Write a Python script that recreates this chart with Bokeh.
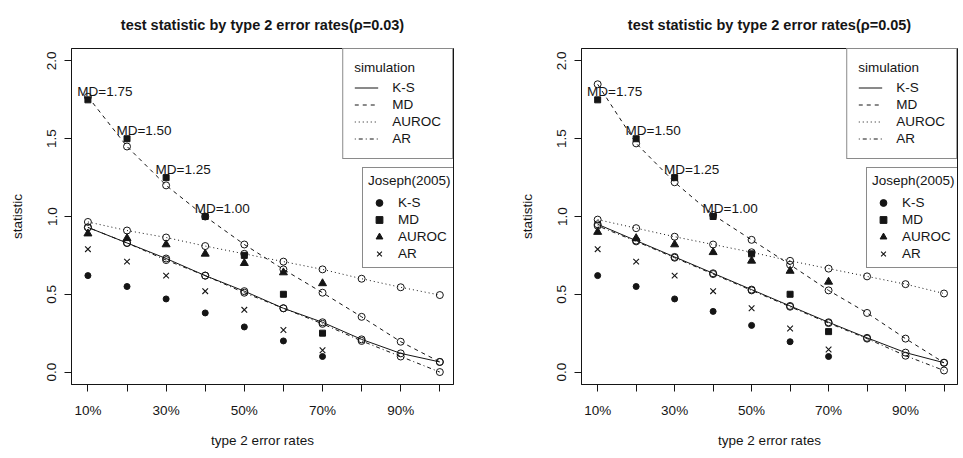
from bokeh.plotting import figure
from bokeh.layouts import row
from bokeh.models import Range1d, FixedTicker, Legend, LegendItem, PrintfTickFormatter
from bokeh.core.properties import value
from bokeh.embed import file_html
from bokeh.resources import INLINE

# ---------------- data ----------------
err_rates = [10, 20, 30, 40, 50, 60, 70, 80, 90, 100]
joseph_rates = [10, 20, 30, 40, 50, 60, 70]
x_tick_labels = ["10%", "", "30%", "", "50%", "", "70%", "", "90%", ""]
y_ticks = [0.0, 0.5, 1.0, 1.5, 2.0]

# rho = 0.03 : simulation (open circles with lines)
sim03_ks = [0.93, 0.83, 0.73, 0.62, 0.52, 0.41, 0.32, 0.21, 0.12, 0.065]
sim03_md = [1.77, 1.45, 1.20, 1.00, 0.82, 0.66, 0.51, 0.355, 0.195, 0.065]
sim03_auroc = [0.965, 0.91, 0.865, 0.81, 0.76, 0.71, 0.66, 0.60, 0.545, 0.495]
sim03_ar = [0.93, 0.83, 0.72, 0.62, 0.51, 0.41, 0.31, 0.20, 0.10, 0.0]
# rho = 0.03 : Joseph(2005)
jos03_ks = [0.62, 0.55, 0.47, 0.38, 0.29, 0.20, 0.10]
jos03_md = [1.75, 1.50, 1.25, 1.00, 0.75, 0.50, 0.25]
jos03_auroc = [0.89, 0.86, 0.82, 0.76, 0.70, 0.64, 0.57]
jos03_ar = [0.79, 0.71, 0.62, 0.52, 0.40, 0.27, 0.14]

# rho = 0.05 : simulation
sim05_ks = [0.95, 0.845, 0.74, 0.635, 0.53, 0.425, 0.32, 0.22, 0.125, 0.06]
sim05_md = [1.85, 1.47, 1.22, 1.01, 0.85, 0.69, 0.525, 0.38, 0.215, 0.06]
sim05_auroc = [0.98, 0.925, 0.87, 0.82, 0.77, 0.715, 0.665, 0.615, 0.565, 0.505]
sim05_ar = [0.94, 0.84, 0.735, 0.63, 0.525, 0.42, 0.315, 0.215, 0.105, 0.01]
# rho = 0.05 : Joseph(2005)
jos05_ks = [0.62, 0.55, 0.47, 0.39, 0.30, 0.195, 0.10]
jos05_md = [1.75, 1.50, 1.25, 1.00, 0.76, 0.50, 0.26]
jos05_auroc = [0.90, 0.86, 0.82, 0.77, 0.715, 0.65, 0.58]
jos05_ar = [0.79, 0.71, 0.62, 0.52, 0.41, 0.28, 0.145]

series_names = ["K-S", "MD", "AUROC", "AR"]
n_md_labels = 4

INK = "#151515"
FONT = "Liberation Sans"
FS = "13.5px"


def make_panel(title, sim, jos, width, border_left, border_right, title_offset, leg2_x):
    p = figure(width=width, height=450,
               x_range=Range1d(5.8, 103.5), y_range=Range1d(-0.08, 2.08),
               output_backend="svg", toolbar_location=None,
               min_border_left=border_left, min_border_right=border_right,
               min_border_top=48, min_border_bottom=62,
               background_fill_color="white", border_fill_color="white")

    p.title.text = title
    p.title.align = "center"
    p.title.vertical_align = "top"
    p.title.offset = title_offset
    p.title.standoff = 28
    p.title.text_font = FONT
    p.title.text_font_size = "14.5px"
    p.title.text_font_style = "bold"
    p.title.text_color = INK

    p.outline_line_color = INK
    p.outline_line_width = 1
    p.xgrid.visible = False
    p.ygrid.visible = False

    for ax in (p.xaxis, p.yaxis):
        ax.axis_line_color = INK
        ax.major_tick_line_color = INK
        ax.major_tick_out = 7
        ax.major_tick_in = 0
        ax.minor_tick_line_color = None
        ax.major_label_text_font = FONT
        ax.major_label_text_font_size = FS
        ax.major_label_text_color = INK
        ax.axis_label_text_font = FONT
        ax.axis_label_text_font_size = FS
        ax.axis_label_text_font_style = "normal"
        ax.axis_label_text_color = INK

    p.xaxis.ticker = FixedTicker(ticks=err_rates)
    p.xaxis.major_label_overrides = {r: lbl for r, lbl in zip(err_rates, x_tick_labels)}
    p.xaxis.major_label_standoff = 11
    p.xaxis.axis_label = "type 2 error rates"
    p.xaxis.axis_label_standoff = 12

    p.yaxis.ticker = FixedTicker(ticks=y_ticks)
    p.yaxis.formatter = PrintfTickFormatter(format="%.1f")
    p.yaxis.major_label_orientation = "vertical"
    p.yaxis.major_label_standoff = 8
    p.yaxis.axis_label = "statistic"
    p.yaxis.axis_label_standoff = 20

    ks, md, au, ar = sim
    dashes = ["solid", "4 4", "1 3", "1 3 4 3"]
    sim_r = []
    for vals, dash in zip((ks, md, au, ar), dashes):
        r = p.line(err_rates, vals, line_color=INK, line_width=1, line_dash=dash)
        sim_r.append(r)
    for vals in (ks, md, au, ar):
        p.scatter(err_rates, vals, marker="circle", size=7, line_color=INK,
                  line_width=1, fill_alpha=0)

    jks, jmd, jau, jar = jos
    j_r = [
        p.scatter(joseph_rates, jks, marker="circle", size=6, line_color=INK, fill_color=INK),
        p.scatter(joseph_rates, jmd, marker="square", size=6, line_color=INK, fill_color=INK),
        p.scatter(joseph_rates, jau, marker="triangle", size=8, line_color=INK, fill_color=INK),
        p.scatter(joseph_rates, jar, marker="x", size=8, line_color=INK, line_width=1.1),
    ]

    p.text(x=joseph_rates[:n_md_labels], y=jmd[:n_md_labels],
           text=["MD=%.2f" % v for v in jmd[:n_md_labels]],
           x_offset=17, y_offset=-8, text_align="center", text_baseline="middle",
           text_font=value(FONT), text_font_size=FS, text_color=INK)

    common = dict(margin=0, spacing=0, glyph_height=17, label_height=17,
                  border_line_color=INK, border_line_width=1,
                  background_fill_color="white", background_fill_alpha=1,
                  label_text_font=FONT, label_text_font_size=FS, label_text_color=INK,
                  title_text_font=FONT, title_text_font_size=FS,
                  title_text_font_style="normal", title_text_color=INK)
    leg1 = Legend(items=[LegendItem(label=n, renderers=[r]) for n, r in zip(series_names, sim_r)],
                  title="simulation", location="top_right", padding=11,
                  glyph_width=24, label_width=47, label_standoff=14, title_standoff=4,
                  **common)
    leg2 = Legend(items=[LegendItem(label=n, renderers=[r]) for n, r in zip(series_names, j_r)],
                  title="Joseph(2005)", location=(leg2_x, 116), padding=5,
                  glyph_width=22, label_width=51, label_standoff=8, title_standoff=6,
                  **common)
    p.add_layout(leg1)
    p.add_layout(leg2)
    return p


p1 = make_panel("test statistic by type 2 error rates(\u03c1=0.03)",
                (sim03_ks, sim03_md, sim03_auroc, sim03_ar),
                (jos03_ks, jos03_md, jos03_auroc, jos03_ar),
                width=491, border_left=71, border_right=38, title_offset=-14, leg2_x=291)
p2 = make_panel("test statistic by type 2 error rates(\u03c1=0.05)",
                (sim05_ks, sim05_md, sim05_auroc, sim05_ar),
                (jos05_ks, jos05_md, jos05_auroc, jos05_ar),
                width=468, border_left=90, border_right=2, title_offset=-34, leg2_x=285)

layout = row(p1, p2)
open("out.html", "w").write(file_html(layout, INLINE))
